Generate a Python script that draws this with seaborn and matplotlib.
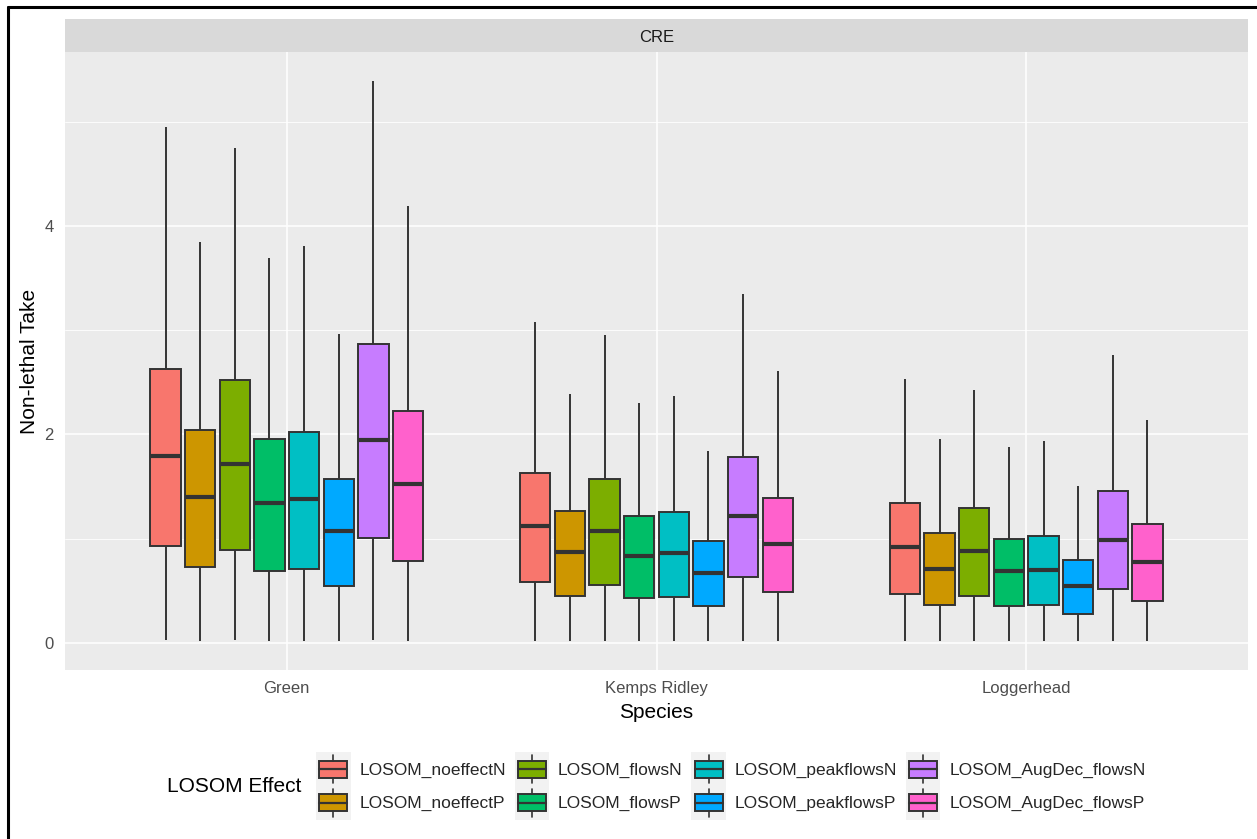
import numpy as np
import pandas as pd
import matplotlib
matplotlib.use("Agg")
import matplotlib.pyplot as plt
import seaborn as sns
from matplotlib.patches import Rectangle, Patch
from matplotlib.lines import Line2D
from matplotlib.legend_handler import HandlerBase

species = ["Green", "Kemps Ridley", "Loggerhead"]
effects = ["LOSOM_noeffectN", "LOSOM_noeffectP", "LOSOM_flowsN", "LOSOM_flowsP",
           "LOSOM_peakflowsN", "LOSOM_peakflowsP", "LOSOM_AugDec_flowsN", "LOSOM_AugDec_flowsP"]
colors = ["#F8766D", "#CD9600", "#7CAE00", "#00BE67",
          "#00BFC4", "#00A9FF", "#C77CFF", "#FF61CC"]
y_ticks = [0, 2, 4]

# five-number summaries: rows = species, columns = LOSOM effect
lower = [[0.03, 0.02, 0.03, 0.02, 0.02, 0.02, 0.03, 0.02],
         [0.02, 0.02, 0.02, 0.02, 0.02, 0.02, 0.02, 0.02],
         [0.02, 0.02, 0.02, 0.02, 0.02, 0.02, 0.02, 0.02]]
q1 = [[0.93, 0.73, 0.89, 0.69, 0.71, 0.55, 1.01, 0.79],
      [0.58, 0.45, 0.56, 0.43, 0.44, 0.35, 0.63, 0.49],
      [0.47, 0.36, 0.45, 0.35, 0.36, 0.28, 0.52, 0.40]]
median = [[1.79, 1.40, 1.72, 1.34, 1.38, 1.07, 1.95, 1.52],
          [1.12, 0.87, 1.07, 0.83, 0.86, 0.67, 1.22, 0.95],
          [0.92, 0.71, 0.88, 0.69, 0.70, 0.55, 0.99, 0.78]]
q3 = [[2.63, 2.04, 2.52, 1.96, 2.02, 1.57, 2.87, 2.23],
      [1.63, 1.27, 1.57, 1.22, 1.26, 0.98, 1.78, 1.39],
      [1.34, 1.05, 1.29, 1.00, 1.03, 0.80, 1.46, 1.14]]
upper = [[4.95, 3.85, 4.75, 3.69, 3.81, 2.96, 5.39, 4.19],
         [3.08, 2.39, 2.95, 2.30, 2.37, 1.84, 3.35, 2.61],
         [2.53, 1.96, 2.43, 1.88, 1.94, 1.51, 2.76, 2.14]]

# long-form table: five points per box reproduce the quartiles exactly
rows = []
for i, sp in enumerate(species):
    for j, ef in enumerate(effects):
        for v in (lower[i][j], q1[i][j], median[i][j], q3[i][j], upper[i][j]):
            rows.append({"Species": sp, "LOSOM Effect": ef, "Non-lethal Take": v})
df = pd.DataFrame(rows)

sns.set_theme(style="darkgrid")
plt.rcParams["font.family"] = ["Liberation Sans", "DejaVu Sans"]

W, H = 1257, 839
fig = plt.figure(figsize=(W / 100, H / 100), dpi=100)
fig.patch.set_facecolor("white")

px_l, px_r, px_t, px_b = 65, 1248, 52, 670
ax = fig.add_axes([px_l / W, 1 - px_b / H, (px_r - px_l) / W, (px_b - px_t) / H])
ax.set_facecolor("#EBEBEB")

line_col = "#333333"
sns.boxplot(data=df, x="Species", y="Non-lethal Take", hue="LOSOM Effect",
            order=species, hue_order=effects, palette=colors, saturation=1,
            width=0.75, gap=0.12, whis=(0, 100), showcaps=False,
            linecolor=line_col, linewidth=1.4,
            medianprops={"linewidth": 3.0, "color": line_col},
            legend=False, ax=ax)

ax.set_xlim(-0.6, 2.6)
ax.set_ylim(-0.26, 5.67)
ax.set_yticks(y_ticks)
ax.set_yticks([1, 3, 5], minor=True)
ax.set_axisbelow(True)
ax.grid(False)
ax.grid(which="major", axis="both", color="white", linewidth=1.1)
ax.grid(which="minor", axis="y", color="white", linewidth=0.6)
for s in ax.spines.values():
    s.set_visible(False)
ax.tick_params(which="major", length=4, width=1.0, color=line_col,
               labelcolor="#4D4D4D", labelsize=12, pad=4)
ax.tick_params(which="minor", length=0)
ax.set_xlabel("Species", fontsize=15, color="black", labelpad=5)
ax.set_ylabel("Non-lethal Take", fontsize=15, color="black", labelpad=4)

# facet strip
strip_top = 19
fig.add_artist(Rectangle((px_l / W, 1 - px_t / H), (px_r - px_l) / W,
                         (px_t - strip_top) / H, transform=fig.transFigure,
                         facecolor="#D9D9D9", edgecolor="none"))
fig.text((px_l + px_r) / 2 / W, 1 - (px_t + strip_top + 3) / 2 / H, "CRE",
         ha="center", va="center", fontsize=12, color="#1A1A1A")

# outer frame lines
fig.add_artist(Line2D([8 / W, 1], [1 - 7 / H, 1 - 7 / H], transform=fig.transFigure,
                      color="black", linewidth=2.2))
fig.add_artist(Line2D([8 / W, 8 / W], [0, 1 - 7 / H], transform=fig.transFigure,
                      color="black", linewidth=2.2))


class BoxGlyph(HandlerBase):
    def create_artists(self, legend, orig_handle, xdescent, ydescent,
                       width, height, fontsize, trans):
        x0, y0 = -xdescent, -ydescent
        bg = Rectangle((x0, y0), width, height, facecolor="#F2F2F2",
                       edgecolor="none", transform=trans)
        bx = Rectangle((x0 + 0.1 * width, y0 + 0.25 * height), 0.8 * width,
                       0.5 * height, facecolor=orig_handle.get_facecolor(),
                       edgecolor=line_col, linewidth=1.4, transform=trans)
        med = Line2D([x0 + 0.1 * width, x0 + 0.9 * width],
                     [y0 + 0.5 * height] * 2, color=line_col, linewidth=1.6,
                     transform=trans)
        w1 = Line2D([x0 + 0.5 * width] * 2, [y0 + 0.08 * height, y0 + 0.25 * height],
                    color=line_col, linewidth=1.2, transform=trans)
        w2 = Line2D([x0 + 0.5 * width] * 2, [y0 + 0.75 * height, y0 + 0.92 * height],
                    color=line_col, linewidth=1.2, transform=trans)
        return [bg, bx, med, w1, w2]


handles = [Patch(facecolor=c, label=e) for c, e in zip(colors, effects)]
fig.legend(handles=handles, labels=effects, ncol=4, loc="center left",
           bbox_to_anchor=(316 / W, 1 - 786 / H), frameon=False,
           fontsize=12.5, handler_map={Patch: BoxGlyph()},
           handlelength=2.0, handleheight=2.6, handletextpad=0.5,
           columnspacing=0.5, labelspacing=0.0, borderpad=0, borderaxespad=0)
fig.text(167 / W, 1 - 787 / H, "LOSOM Effect", ha="left", va="center",
         fontsize=15, color="black")

fig.savefig("out.png", dpi=100, facecolor="white")
